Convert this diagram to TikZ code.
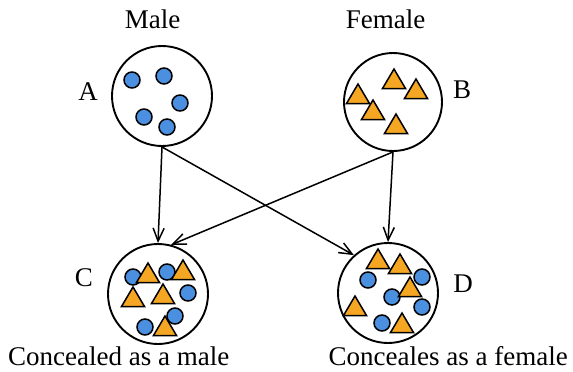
\documentclass[tikz,border=0pt]{standalone}
\usepackage{fontspec}
\setmainfont{Liberation Serif}
\usetikzlibrary{arrows.meta}
\definecolor{dotblue}{HTML}{4A8FE0}
\definecolor{triorange}{HTML}{F5A623}
\begin{document}
\begin{tikzpicture}[x=1pt,y=-1pt,
  bigc/.style={circle,draw,line width=1.9pt,minimum size=100pt,inner sep=0pt},
  lbl/.style={font=\fontsize{27}{32}\selectfont,inner sep=0pt},
  conn/.style={line width=1.5pt,-{Straight Barb[length=13pt,width=11pt,line width=1.5pt]}},
  dot/.pic={\filldraw[fill=dotblue,draw=black,line width=1.5pt] (0,0) circle[radius=8];},
  tri/.pic={\filldraw[fill=triorange,draw=black,line width=1.5pt,line join=miter] (-11.5,9.5)--(11.5,9.5)--(0,-10)--cycle;}
]
\useasboundingbox (0,0) rectangle (573,372);
\node[bigc] (A) at (162,96) {};
\node[bigc,minimum size=98pt] (B) at (393,102) {};
\node[bigc] (C) at (158,294) {};
\node[bigc] (D) at (388,293) {};

\node[lbl,anchor=base] (male) at (152.5,28) {Male};
\node[lbl,anchor=base] (female) at (385.5,28) {Female};
\node[lbl] (la) at (88,92) {A};
\node[lbl] (lb) at (462,90) {B};
\node[lbl] (lc) at (84,278) {C};
\node[lbl] (ld) at (463,284) {D};
\node[lbl,anchor=base west] (cm) at (8,365) {Concealed as a male};
\node[lbl,anchor=base east] (cf) at (568,365) {Conceales as a female};

% A contents
\pic at (132,80) {dot};
\pic at (164,76) {dot};
\pic at (180,103) {dot};
\pic at (144,117) {dot};
\pic at (167,127) {dot};
% B contents
\pic at (394,79) {tri};
\pic at (416,89) {tri};
\pic at (358,94) {tri};
\pic at (373,110) {tri};
\pic at (396,124) {tri};
% C contents
\pic at (133,277) {dot};
\pic at (167,272) {dot};
\pic at (188,293) {dot};
\pic at (175,316) {dot};
\pic at (145,327) {dot};
\pic at (148,273) {tri};
\pic at (183,270) {tri};
\pic at (133,297) {tri};
\pic at (163,294) {tri};
\pic at (165,326) {tri};
% D contents
\pic at (422,277) {dot};
\pic at (368,280) {dot};
\pic at (392,297) {dot};
\pic at (422,307) {dot};
\pic at (382,323) {dot};
\pic at (378,259) {tri};
\pic at (400,264) {tri};
\pic at (410,287) {tri};
\pic at (355,306) {tri};
\pic at (402,323) {tri};

\draw[conn] (A.south) -- (C.north);
\draw[conn] (A.south) -- (D.132);
\draw[conn] (B.south) -- (C.75);
\draw[conn] (B.south) -- (D.north);
\end{tikzpicture}
\end{document}
